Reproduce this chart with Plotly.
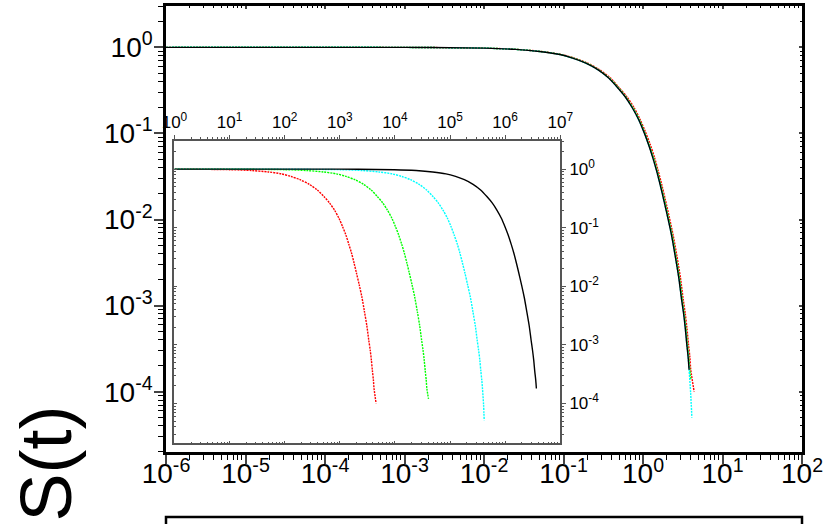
import plotly.graph_objects as go

# ---- decay values shared by the collapsed curves (S) ----
decay_s = [1.0, 0.998, 0.978, 0.946, 0.895, 0.83, 0.75, 0.66, 0.55, 0.44, 0.34, 0.265, 0.2,
           0.145, 0.105, 0.075, 0.052, 0.037, 0.025, 0.017, 0.0105, 0.0065, 0.0037, 0.0021,
           0.0012, 8.1e-4, 5.5e-4, 3.6e-4, 2.5e-4, 1.8e-4]

# ---- main panel: S(t) against scaled time t/tau ----
main_black_t = [1e-6, 1e-3, 0.01, 0.025, 0.05, 0.087, 0.13, 0.188, 0.27, 0.37, 0.48, 0.6, 0.73,
                0.88, 1.02, 1.17, 1.33, 1.48, 1.65, 1.82, 2.05, 2.29, 2.55, 2.82,
                3.05, 3.24, 3.4, 3.55, 3.7, 3.8]
main_black_s = decay_s

main_red_t = [1e-6, 1.05e-3, 0.0105, 0.026, 0.0525, 0.091, 0.137, 0.197, 0.284, 0.39, 0.5, 0.63, 0.77,
              0.92, 1.07, 1.23, 1.4, 1.55, 1.73, 1.91, 2.15, 2.4, 2.68, 2.96,
              3.2, 3.4, 3.57, 3.73, 3.89, 3.99, 4.4]
main_red_s = decay_s + [1.0e-4]

main_green_t = [1e-6, 1.02e-3, 0.0102, 0.0255, 0.051, 0.089, 0.133, 0.192, 0.275, 0.377, 0.49, 0.61, 0.745,
                0.9, 1.04, 1.19, 1.36, 1.51, 1.68, 1.86, 2.09, 2.34, 2.6, 2.88,
                3.11, 3.3, 3.47, 3.62, 3.77, 3.88, 3.98]
main_green_s = decay_s + [1.4e-4]

main_cyan_t = [1e-6, 1e-3, 0.01, 0.025, 0.05, 0.087, 0.13, 0.188, 0.27, 0.37, 0.48, 0.6, 0.73,
               0.88, 1.02, 1.17, 1.33, 1.48, 1.65, 1.82, 2.05, 2.29, 2.55, 2.82,
               3.05, 3.24, 3.4, 3.55, 3.7, 3.8, 3.98, 4.12]
main_cyan_s = decay_s + [9.5e-5, 5.0e-5]

# ---- inset: S(t) against raw time t ----
inset_red_t = [1, 10, 25, 50, 87, 130, 190, 280, 390, 515, 650, 800,
               965, 1120, 1290, 1460, 1630, 1815, 2000, 2255, 2520, 2800, 3100,
               3355, 3565, 3740, 3905, 4070, 4180, 4560]
inset_red_s = decay_s[1:] + [1.0e-4]

inset_green_t = [1, 10, 100, 250, 500, 870, 1300, 1880, 2700, 3700, 4800, 6000, 7300,
                 8800, 10200, 11700, 13300, 14800, 16500, 18200, 20500, 22900, 25500, 28200,
                 30500, 32400, 34000, 35500, 37000, 38000, 40700]
inset_green_s = decay_s + [1.2e-4]

inset_cyan_t = [1, 102, 1020, 2550, 5100, 8900, 13300, 19200, 27500, 37700, 49000, 61200, 74500,
                89800, 104000, 119000, 136000, 151000, 168000, 186000, 209000, 234000, 260000, 288000,
                311000, 330000, 347000, 362000, 377000, 388000, 406000, 417000]
inset_cyan_s = decay_s + [9.5e-5, 5.1e-5]

inset_black_t = [1, 970, 9700, 24300, 48500, 84400, 126000, 182000, 262000, 359000, 466000, 582000, 708000,
                 854000, 989000, 1.135e6, 1.29e6, 1.436e6, 1.6e6, 1.765e6, 1.99e6, 2.22e6, 2.47e6, 2.735e6,
                 2.96e6, 3.14e6, 3.3e6, 3.44e6, 3.59e6, 3.69e6]
inset_black_s = decay_s

# ---- tick labels ----
main_x_ticks = [1e-6, 1e-5, 1e-4, 1e-3, 1e-2, 1e-1, 1e0, 1e1, 1e2]
main_x_labels = ["10<sup>-6</sup>", "10<sup>-5</sup>", "10<sup>-4</sup>", "10<sup>-3</sup>", "10<sup>-2</sup>",
                 "10<sup>-1</sup>", "10<sup>0</sup>", "10<sup>1</sup>", "10<sup>2</sup>"]
main_y_ticks = [1e-4, 1e-3, 1e-2, 1e-1, 1e0]
main_y_labels = ["10<sup>-4</sup>", "10<sup>-3</sup>", "10<sup>-2</sup>", "10<sup>-1</sup>", "10<sup>0</sup>"]
inset_x_ticks = [1e0, 1e1, 1e2, 1e3, 1e4, 1e5, 1e6, 1e7]
inset_x_labels = ["10<sup>0</sup>", "10<sup>1</sup>", "10<sup>2</sup>", "10<sup>3</sup>",
                  "10<sup>4</sup>", "10<sup>5</sup>", "10<sup>6</sup>", "10<sup>7</sup>"]
inset_y_ticks = [1e-4, 1e-3, 1e-2, 1e-1, 1e0]
inset_y_labels = ["10<sup>-4</sup>", "10<sup>-3</sup>", "10<sup>-2</sup>", "10<sup>-1</sup>", "10<sup>0</sup>"]

FONT = "Arial, Liberation Sans, sans-serif"
DOTTED = "2px,1px"

fig = go.Figure()

series_main = [
    (main_red_t, main_red_s, "#ff0000", DOTTED),
    (main_green_t, main_green_s, "#00ff00", DOTTED),
    (main_cyan_t, main_cyan_s, "#00ffff", DOTTED),
    (main_black_t, main_black_s, "#000000", "solid"),
]
for t, s, c, d in series_main:
    fig.add_trace(go.Scatter(x=t, y=s, mode="lines", xaxis="x", yaxis="y",
                             line=dict(color=c, width=1.4, dash=d, shape="spline", smoothing=0.8),
                             showlegend=False, hoverinfo="skip"))

series_inset = [
    (inset_red_t, inset_red_s, "#ff0000", DOTTED),
    (inset_green_t, inset_green_s, "#00ff00", DOTTED),
    (inset_cyan_t, inset_cyan_s, "#00ffff", DOTTED),
    (inset_black_t, inset_black_s, "#000000", "solid"),
]
for t, s, c, d in series_inset:
    fig.add_trace(go.Scatter(x=t, y=s, mode="lines", xaxis="x2", yaxis="y2",
                             line=dict(color=c, width=1.4, dash=d, shape="spline", smoothing=0.8),
                             showlegend=False, hoverinfo="skip"))

# invisible carriers so the mirrored tick axes are drawn
for xa, ya in (("x3", "y3"), ("x4", "y4")):
    fig.add_trace(go.Scatter(x=[1], y=[1], xaxis=xa, yaxis=ya, mode="markers",
                             marker=dict(opacity=0), showlegend=False, hoverinfo="skip"))

main_font = dict(family=FONT, size=28, color="black")
inset_font = dict(family=FONT, size=17, color="black")


def log_axis(rng, **kw):
    base = dict(type="log", range=rng, showgrid=False, zeroline=False, showline=True, linecolor="black")
    base.update(kw)
    return base


def minor(kind, length, color="black"):
    return dict(ticks=kind, ticklen=length, tickwidth=1.2, dtick="D1", tickcolor=color)


fig.update_layout(
    width=823, height=524,
    margin=dict(l=166, r=19, t=6, b=0),
    paper_bgcolor="white", plot_bgcolor="white",
    xaxis=log_axis([-6, 2], domain=[0, 1], anchor="y", side="bottom", linewidth=2.5,
                   tickmode="array", tickvals=main_x_ticks, ticktext=main_x_labels,
                   ticks="outside", ticklen=9, tickwidth=2, tickfont=main_font,
                   ticklabeloverflow="allow", ticklabelstandoff=-14,
                   minor=minor("outside", 5)),
    yaxis=log_axis([-4.70, 0.48], domain=[0.139, 1], anchor="x", side="left", linewidth=2.5,
                   tickmode="array", tickvals=main_y_ticks, ticktext=main_y_labels,
                   ticks="outside", ticklen=9, tickwidth=2, tickfont=main_font,
                   ticklabeloverflow="allow", ticklabelstandoff=-4,
                   minor=minor("outside", 5)),
    xaxis3=log_axis([-6, 2], overlaying="x", anchor="y3", side="top", linewidth=2.5, dtick=1,
                    ticks="inside", ticklen=3, tickwidth=1.5, showticklabels=False,
                    minor=minor("inside", 2)),
    yaxis3=log_axis([-4.70, 0.48], overlaying="y", anchor="x3", side="right", linewidth=2.5, dtick=1,
                    ticks="inside", ticklen=3, tickwidth=1.5, showticklabels=False,
                    minor=minor("inside", 2)),
    xaxis2=log_axis([0, 7], domain=[0.0133, 0.6199], anchor="y2", side="top", linewidth=1.5,
                    linecolor="#555555", tickmode="array", tickvals=inset_x_ticks, ticktext=inset_x_labels,
                    ticks="outside", ticklen=4, tickwidth=1, tickcolor="#555555", tickfont=inset_font,
                    ticklabeloverflow="allow",
                    minor=minor("outside", 2, "#555555")),
    yaxis2=log_axis([-4.68, 0.48], domain=[0.1558, 0.7394], anchor="x2", side="right", linewidth=1.5,
                    linecolor="#555555", tickmode="array", tickvals=inset_y_ticks, ticktext=inset_y_labels,
                    ticks="outside", ticklen=4, tickwidth=1, tickcolor="#555555", tickfont=inset_font,
                    ticklabeloverflow="allow",
                    minor=minor("outside", 2, "#555555")),
    xaxis4=log_axis([0, 7], overlaying="x2", anchor="y4", side="bottom", linewidth=1.5, dtick=1,
                    linecolor="#555555", ticks="inside", ticklen=3, tickwidth=1, tickcolor="#555555",
                    showticklabels=False, minor=minor("inside", 2, "#555555")),
    yaxis4=log_axis([-4.68, 0.48], overlaying="y2", anchor="x4", side="left", linewidth=1.5, dtick=1,
                    linecolor="#555555", ticks="inside", ticklen=3, tickwidth=1, tickcolor="#555555",
                    showticklabels=False, minor=minor("inside", 2, "#555555")),
    annotations=[dict(text="S(t)", xref="paper", yref="paper", x=-0.188, y=0.1178,
                      xanchor="center", yanchor="middle", textangle=-90, showarrow=False,
                      font=dict(family=FONT, size=72, color="black"))],
    shapes=[dict(type="rect", xref="paper", yref="paper", x0=0, x1=1, y0=0.0135, y1=-0.05,
                 line=dict(color="black", width=2.5), fillcolor="rgba(0,0,0,0)")],
)

fig.write_html("out.html")
